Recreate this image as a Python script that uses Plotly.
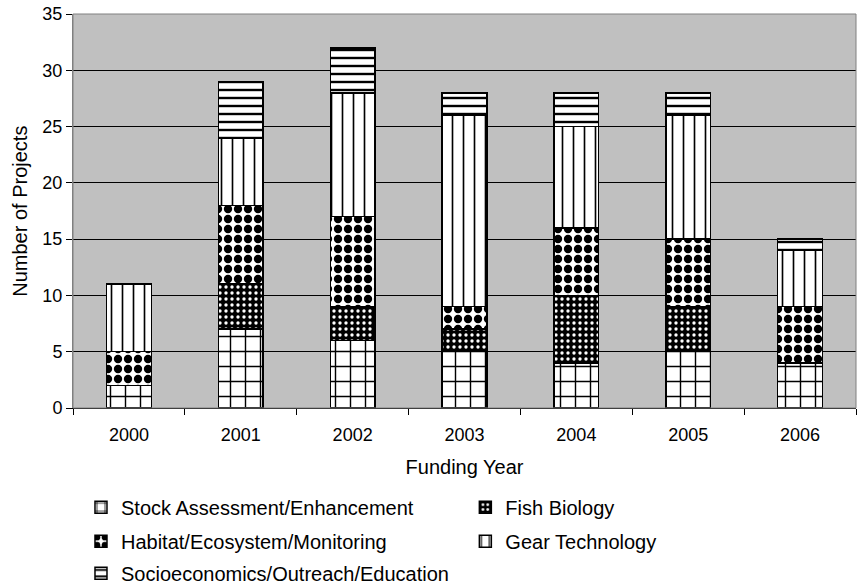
import plotly.graph_objects as go

years = ["2000", "2001", "2002", "2003", "2004", "2005", "2006"]
stock = [2, 7, 6, 5, 4, 5, 4]
fish = [0, 4, 3, 2, 6, 4, 0]
habitat = [3, 7, 8, 2, 6, 6, 5]
gear = [6, 6, 11, 17, 9, 11, 5]
socio = [0, 5, 4, 2, 3, 2, 1]

names = ["Stock Assessment/Enhancement", "Fish Biology",
         "Habitat/Ecosystem/Monitoring", "Gear Technology",
         "Socioeconomics/Outreach/Education"]
series = [stock, fish, habitat, gear, socio]
patterns = [
    dict(shape="+", fgcolor="black", bgcolor="white", size=15, solidity=0.18, fillmode="replace"),
    dict(shape=".", fgcolor="white", bgcolor="black", size=6, solidity=0.25, fillmode="replace"),
    dict(shape=".", fgcolor="black", bgcolor="white", size=10, solidity=0.55, fillmode="replace"),
    dict(shape="|", fgcolor="black", bgcolor="white", size=11, solidity=0.15, fillmode="replace"),
    dict(shape="-", fgcolor="black", bgcolor="white", size=8, solidity=0.3, fillmode="replace"),
]
legend_ids = ["legend", "legend2", "legend", "legend2", "legend3"]

FONT = "Arial, Liberation Sans, sans-serif"
fig = go.Figure()
for i, (name, vals, pat, lg) in enumerate(zip(names, series, patterns, legend_ids)):
    fig.add_trace(go.Bar(
        x=years, y=vals, name=name, legend=lg, legendgroup=f"g{i}",
        marker=dict(color="white", pattern=pat, line=dict(color="black", width=1.5)),
    ))

leg_common = dict(orientation="v", font=dict(family=FONT, size=20, color="black"),
                  bgcolor="rgba(0,0,0,0)", xanchor="left", yanchor="top",
                  xref="container", yref="container",
                  itemwidth=30, traceorder="grouped", tracegroupgap=5)

fig.update_layout(
    width=857, height=584,
    margin=dict(l=73, r=1, t=14, b=176, autoexpand=False),
    barmode="stack", bargap=0.6,
    plot_bgcolor="#C0C0C0", paper_bgcolor="white",
    font=dict(family=FONT, size=18, color="black"),
    legend=dict(**leg_common, x=0.0945, y=0.165),
    legend2=dict(**leg_common, x=0.543, y=0.165),
    legend3=dict(**leg_common, x=0.0945, y=0.052),
    xaxis=dict(
        title=dict(text="Funding Year", font=dict(size=20), standoff=16),
        tickson="boundaries", ticks="outside", ticklen=6, tickcolor="black",
        showline=True, linecolor="black", linewidth=1,
        tickfont=dict(size=18), ticklabelstandoff=10,
    ),
    yaxis=dict(
        range=[0, 35], dtick=5, tick0=0,
        ticks="outside", ticklen=6, tickcolor="black",
        showgrid=True, gridcolor="black", gridwidth=1,
        showline=True, linecolor="#808080", linewidth=1,
        zeroline=False, tickfont=dict(size=18),
    ),
    annotations=[dict(text="Number of Projects", textangle=-90, showarrow=False,
                      xref="paper", yref="paper", x=-0.068, y=0.5,
                      xanchor="center", yanchor="middle",
                      font=dict(family=FONT, size=20, color="black"))],
    shapes=[dict(type="rect", xref="paper", yref="paper", x0=0, x1=1, y0=0, y1=1,
                 line=dict(color="#808080", width=1), layer="above")],
)

fig.write_html("out.html")
